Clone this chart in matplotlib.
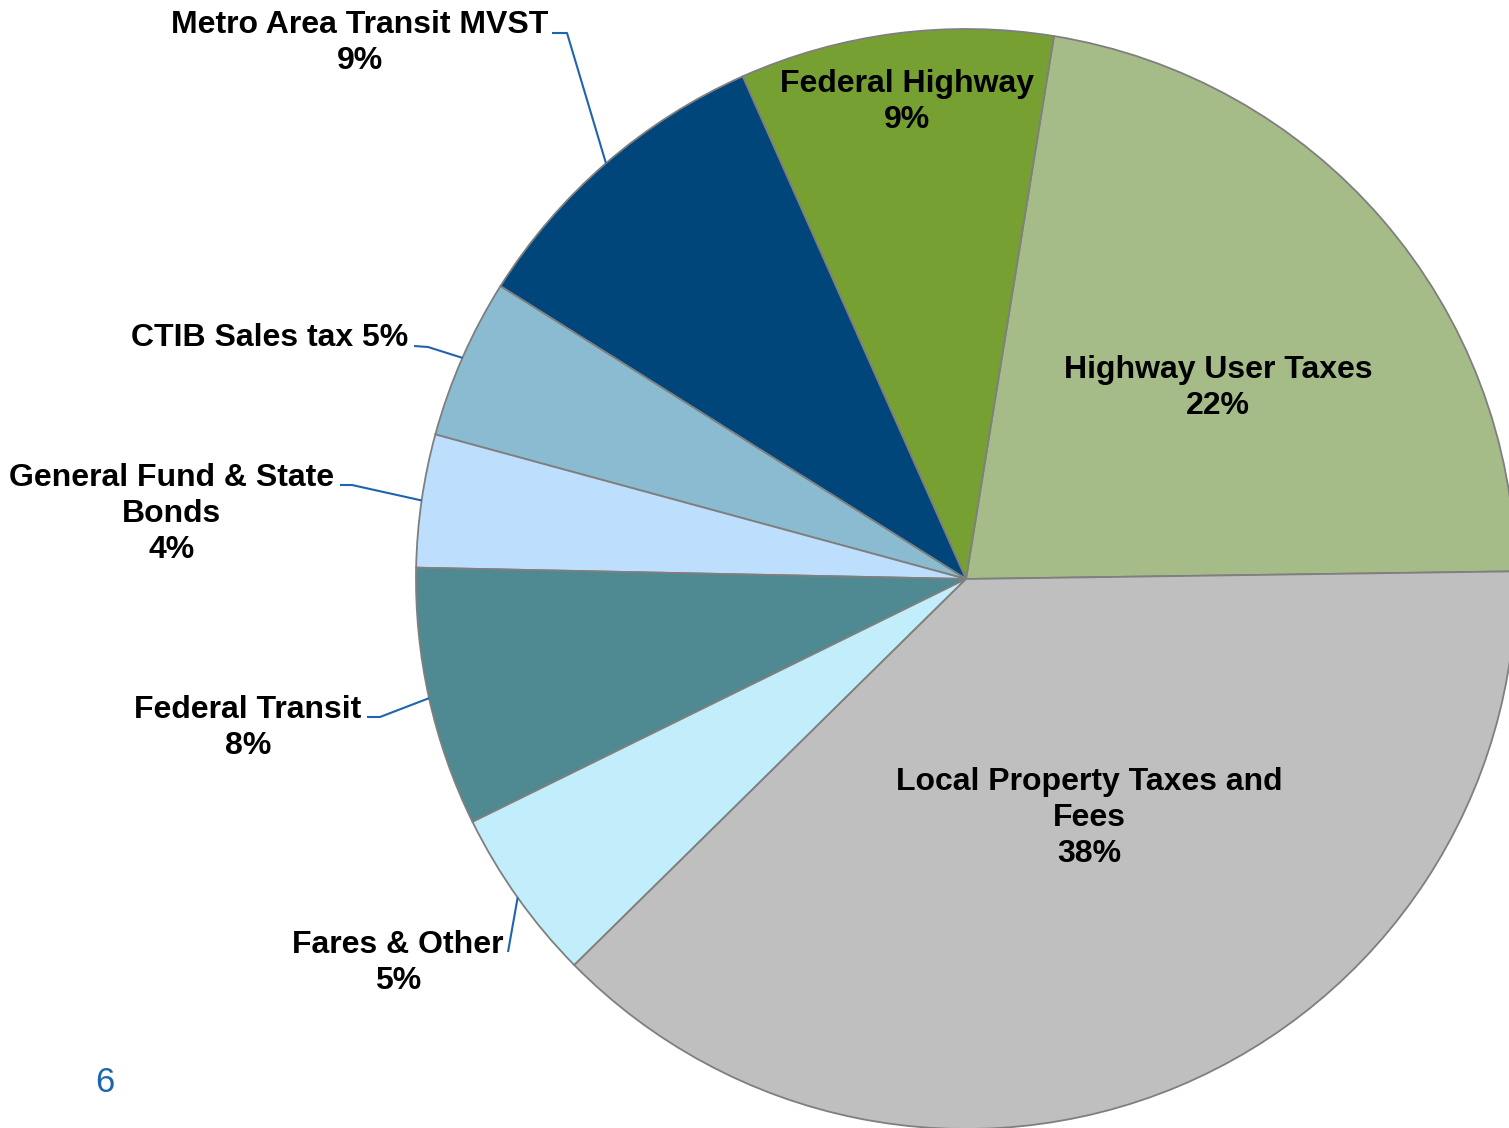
import numpy as np
import matplotlib.pyplot as plt

# Slices in counter-clockwise order, starting just above 3 o'clock
names = ["Highway User Taxes", "Federal Highway", "Metro Area Transit MVST",
         "CTIB Sales tax", "General Fund & State Bonds", "Federal Transit",
         "Fares & Other", "Local Property Taxes and Fees"]
shares = [22.2, 9.2, 9.4, 4.7, 3.9, 7.6, 5.1, 37.8]
label_text = ["Highway User Taxes\n22%", "Federal Highway\n9%",
              "Metro Area Transit MVST\n9%", "CTIB Sales tax 5%",
              "General Fund & State\nBonds\n4%", "Federal Transit\n8%",
              "Fares & Other\n5%", "Local Property Taxes and\nFees\n38%"]
colors = ["#A5BC89", "#77A033", "#00467B", "#8ABBD0",
          "#BDDFFD", "#4F8991", "#C2EEFC", "#BFBFBF"]

W, H = 1509, 1128
fig = plt.figure(figsize=(W / 100, H / 100), dpi=100)
ax = fig.add_axes([0, 0, 1, 1])

cx, cy, r = 966, H - 579, 550
wedges, _ = ax.pie(shares, colors=colors, startangle=0.8, counterclock=True,
                   center=(cx, cy), radius=r, frame=True,
                   wedgeprops=dict(edgecolor="#7F7F7F", linewidth=1.3))
ax.set_xlim(0, W)
ax.set_ylim(0, H)
ax.set_aspect("equal")
ax.axis("off")

font = dict(family="Liberation Sans", fontweight="bold", fontsize=23,
            color="black", ha="center", va="center", linespacing=1.25)

# label positions (pixel coords, top-left origin)
label_pos = [(1218, 388), (907, 102), (360, 43), (270, 338),
             (172, 514), (248, 728), (398, 963), (1089, 818)]
# where the leader leaves the label (pixel coords)
leader_start = [None, None, [(552, 33), (567, 33)], [(414, 346), (428, 347)],
                [(340, 485), (352, 485)], [(367, 717), (380, 717)],
                [(508, 952)], None]

line_col = "#1F64AE"
for w, txt, pos, ls in zip(wedges, label_text, label_pos, leader_start):
    ax.text(pos[0], H - pos[1], txt, **font)
    if ls is not None:
        mid = np.deg2rad((w.theta1 + w.theta2) / 2)
        ex, ey = cx + r * np.cos(mid), cy + r * np.sin(mid)
        xs = [p[0] for p in ls] + [ex]
        ys = [H - p[1] for p in ls] + [ey]
        ax.plot(xs, ys, color=line_col, lw=1.5, solid_capstyle="butt")

# slide number
ax.text(105, H - 1083, "6", fontsize=25, color="#1F64AE",
        family="Liberation Sans", ha="center", va="center")

fig.savefig("out.png", dpi=100)
